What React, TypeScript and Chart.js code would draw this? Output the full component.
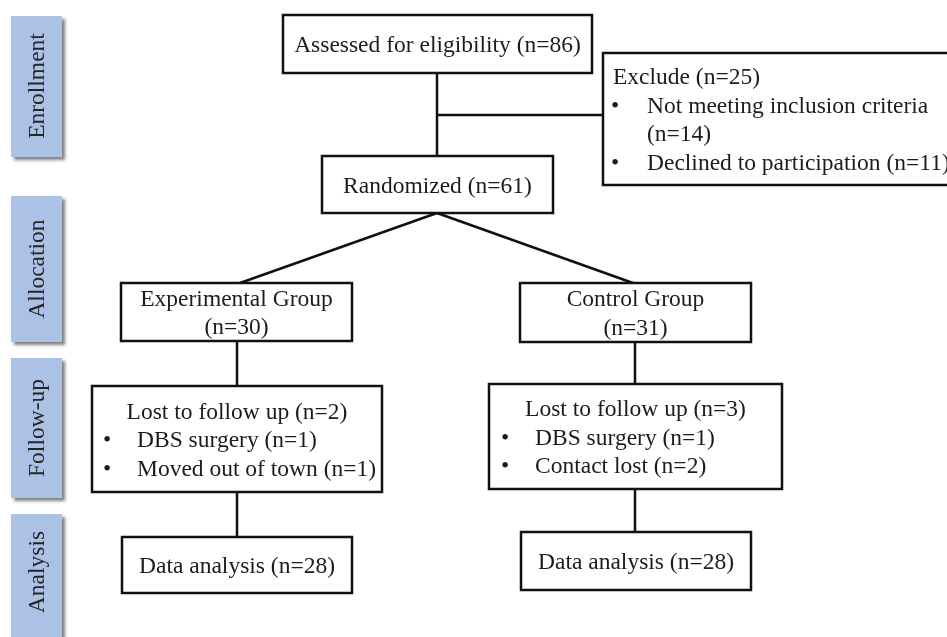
import React, { useEffect, useRef } from "react";
import { Chart, registerables } from "chart.js";

Chart.register(...registerables);

// ---- data ----
const STAGES = ["Enrollment", "Allocation", "Follow-up", "Analysis"];
const ASSESSED = 86;
const EXCLUDED = 25;
const NOT_MEETING = 14;
const DECLINED = 11;
const RANDOMIZED = 61;
const GROUPS = ["Experimental Group", "Control Group"];
const GROUP_N = [30, 31];
const LOST_N = [2, 3];
const LOST_REASONS = [
  ["DBS surgery", "Moved out of town"],
  ["DBS surgery", "Contact lost"],
];
const LOST_REASON_N = [
  [1, 1],
  [1, 2],
];
const ANALYSED_N = [28, 28];

// ---- layout (in scale units of a 947 x 637 canvas) ----
const W = 947;
const H = 637;
const FONT = '23.5px "Liberation Serif", "Times New Roman", serif';
const LINE_H = 28.5;

const STAGE_X = [11, 62];
const STAGE_Y = [
  [16, 157],
  [196, 342],
  [358, 498],
  [514, 650],
];
const STAGE_TEXT_Y = [86, 269, 428, 572];

type Line = { t: string; bullet?: boolean; align?: "center" | "left" };
type Box = { x1: number; x2: number; y1: number; y2: number; lines: Line[]; left?: number; bulletX?: number; textX?: number };

const boxes: Box[] = [
  { x1: 283, x2: 592, y1: 15, y2: 73, lines: [{ t: `Assessed for eligibility (n=${ASSESSED})` }] },
  {
    x1: 603, x2: 965, y1: 53, y2: 185, left: 613, bulletX: 615, textX: 647,
    lines: [
      { t: `Exclude (n=${EXCLUDED})`, align: "left" },
      { t: "Not meeting inclusion criteria", bullet: true },
      { t: `(n=${NOT_MEETING})`, align: "left" },
      { t: `Declined to participation (n=${DECLINED})`, bullet: true },
    ],
  },
  { x1: 322, x2: 553, y1: 156, y2: 213, lines: [{ t: `Randomized (n=${RANDOMIZED})` }] },
  { x1: 121, x2: 352, y1: 283, y2: 341, lines: [{ t: GROUPS[0] }, { t: `(n=${GROUP_N[0]})` }] },
  { x1: 520, x2: 751, y1: 283, y2: 342, lines: [{ t: GROUPS[1] }, { t: `(n=${GROUP_N[1]})` }] },
  {
    x1: 92, x2: 382, y1: 386, y2: 492, bulletX: 107, textX: 137,
    lines: [
      { t: `Lost to follow up (n=${LOST_N[0]})` },
      { t: `${LOST_REASONS[0][0]} (n=${LOST_REASON_N[0][0]})`, bullet: true },
      { t: `${LOST_REASONS[0][1]} (n=${LOST_REASON_N[0][1]})`, bullet: true },
    ],
  },
  {
    x1: 489, x2: 782, y1: 384, y2: 489, bulletX: 505, textX: 535,
    lines: [
      { t: `Lost to follow up (n=${LOST_N[1]})` },
      { t: `${LOST_REASONS[1][0]} (n=${LOST_REASON_N[1][0]})`, bullet: true },
      { t: `${LOST_REASONS[1][1]} (n=${LOST_REASON_N[1][1]})`, bullet: true },
    ],
  },
  { x1: 122, x2: 352, y1: 537, y2: 593, lines: [{ t: `Data analysis (n=${ANALYSED_N[0]})` }] },
  { x1: 521, x2: 751, y1: 532, y2: 590, lines: [{ t: `Data analysis (n=${ANALYSED_N[1]})` }] },
];

const CONNECTORS = [
  [[437, 73], [437, 156]],
  [[437, 115], [603, 115]],
  [[437, 213], [240, 283]],
  [[437, 213], [633, 283]],
  [[237, 341], [237, 386]],
  [[237, 492], [237, 537]],
  [[635, 342], [635, 384]],
  [[635, 489], [635, 532]],
];

const flowPlugin = {
  id: "flow",
  afterDatasetsDraw(chart: any) {
    const { ctx, scales } = chart;
    const sx = (v: number) => scales.x.getPixelForValue(v);
    const sy = (v: number) => scales.y.getPixelForValue(v);
    ctx.save();
    // stage labels
    STAGES.forEach((s, i) => {
      const x1 = sx(STAGE_X[0]), x2 = sx(STAGE_X[1]);
      const y1 = sy(STAGE_Y[i][0]), y2 = sy(STAGE_Y[i][1]);
      ctx.save();
      ctx.shadowColor = "rgba(60,60,60,0.65)";
      ctx.shadowOffsetX = 3;
      ctx.shadowOffsetY = 3;
      ctx.shadowBlur = 3;
      ctx.fillStyle = "#abc1e5";
      ctx.fillRect(x1, y1, x2 - x1, y2 - y1);
      ctx.restore();
      ctx.save();
      ctx.translate((x1 + x2) / 2, sy(STAGE_TEXT_Y[i]));
      ctx.rotate(-Math.PI / 2);
      ctx.font = FONT;
      ctx.fillStyle = "#262626";
      ctx.textAlign = "center";
      ctx.textBaseline = "middle";
      ctx.fillText(s, 0, 1);
      ctx.restore();
    });
    // boxes
    boxes.forEach((b) => {
      const x1 = sx(b.x1), x2 = sx(b.x2), y1 = sy(b.y1), y2 = sy(b.y2);
      ctx.fillStyle = "#ffffff";
      ctx.fillRect(x1, y1, x2 - x1, y2 - y1);
      ctx.strokeStyle = "#111111";
      ctx.lineWidth = 2.5;
      ctx.strokeRect(x1, y1, x2 - x1, y2 - y1);
      ctx.font = FONT;
      ctx.fillStyle = "#1c1c1c";
      ctx.textBaseline = "middle";
      const n = b.lines.length;
      const cy = (b.y1 + b.y2) / 2 + 2;
      b.lines.forEach((ln, i) => {
        const y = sy(cy + (i - (n - 1) / 2) * LINE_H);
        if (ln.bullet) {
          ctx.textAlign = "center";
          ctx.fillText("•", sx(b.bulletX!), y);
          ctx.textAlign = "left";
          ctx.fillText(ln.t, sx(b.textX!), y);
        } else if (ln.align === "left") {
          ctx.textAlign = "left";
          const lx = i === 0 && b.left !== undefined ? b.left : b.textX!;
          ctx.fillText(ln.t, sx(lx), y);
        } else {
          ctx.textAlign = "center";
          ctx.fillText(ln.t, sx((b.x1 + b.x2) / 2), y);
        }
      });
    });
    ctx.restore();
  },
};

export default function App() {
  const ref = useRef<HTMLCanvasElement>(null);
  useEffect(() => {
    if (!ref.current) return;
    const chart = new Chart(ref.current, {
      type: "scatter",
      data: {
        datasets: CONNECTORS.map((c) => ({
          data: c.map(([x, y]) => ({ x, y })),
          showLine: true,
          borderColor: "#111111",
          borderWidth: 2.5,
          pointRadius: 0,
          pointHoverRadius: 0,
          fill: false,
        })),
      },
      options: {
        animation: false,
        responsive: false,
        events: [],
        layout: { padding: 0 },
        plugins: { legend: { display: false }, tooltip: { enabled: false } },
        scales: {
          x: { type: "linear", min: 0, max: W, display: false },
          y: { type: "linear", min: 0, max: H, reverse: true, display: false },
        },
      },
      plugins: [flowPlugin],
    });
    return () => chart.destroy();
  }, []);
  return (
    <div style={{ position: "fixed", left: 0, top: 0, width: W, height: H, background: "#fff" }}>
      <canvas ref={ref} width={W} height={H} style={{ display: "block", width: W, height: H }} />
    </div>
  );
}
